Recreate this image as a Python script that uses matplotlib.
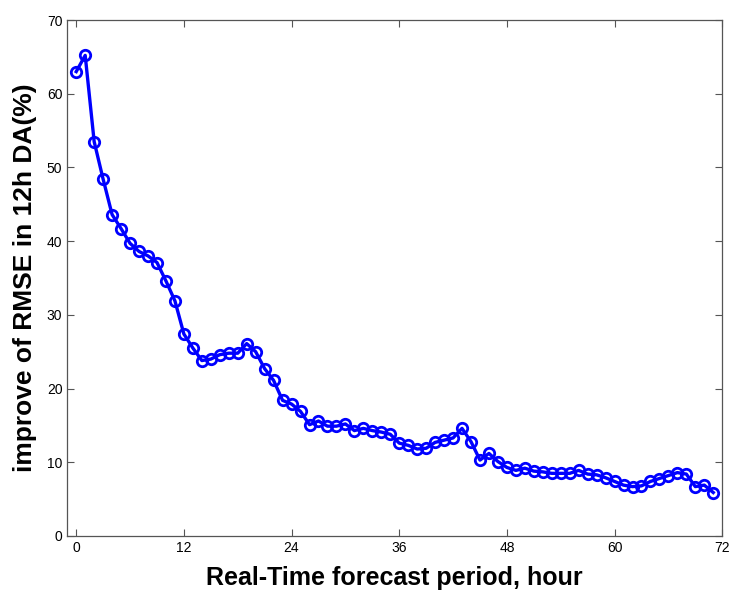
import matplotlib.pyplot as plt

plt.rcParams['font.family'] = ['Liberation Sans', 'DejaVu Sans']

# forecast hour and RMSE improvement (%)
hours = list(range(72))
improve = [
    63.0, 65.2, 53.5, 48.4, 43.6, 41.7, 39.7, 38.6, 38.0, 37.1,
    34.6, 31.9, 27.4, 25.5, 23.8, 24.0, 24.6, 24.8, 24.8, 26.1,
    25.0, 22.7, 21.1, 18.4, 17.9, 16.9, 15.1, 15.6, 14.9, 14.9,
    15.2, 14.3, 14.6, 14.3, 14.1, 13.8, 12.6, 12.3, 11.8, 11.9,
    12.7, 13.0, 13.3, 14.6, 12.8, 10.3, 11.2, 10.1, 9.3, 8.9,
    9.2, 8.8, 8.7, 8.5, 8.5, 8.5, 8.9, 8.4, 8.3, 7.9,
    7.4, 6.9, 6.7, 6.8, 7.4, 7.8, 8.2, 8.6, 8.4, 6.7,
    6.9, 5.9,
]
xticks = [0, 12, 24, 36, 48, 60, 72]
yticks = [0, 10, 20, 30, 40, 50, 60, 70]

fig = plt.figure(figsize=(7.31, 5.92), dpi=100)
ax = fig.add_axes([0.092, 0.0946, 0.896, 0.8716])

ax.plot(hours, improve, color='#0000ff', linewidth=2.4,
        marker='o', markersize=7.5, markerfacecolor='none',
        markeredgecolor='#0000ff', markeredgewidth=2.0)

ax.set_xlim(-1, 72)
ax.set_ylim(0, 70)
ax.set_xticks(xticks)
ax.set_yticks(yticks)
ax.tick_params(direction='in', top=True, right=True, length=5,
               width=0.8, color='#555555', labelsize=10)
for s in ax.spines.values():
    s.set_color('#555555')
    s.set_linewidth(0.9)

ax.set_xlabel('Real-Time forecast period, hour', fontsize=18,
              fontweight='bold', labelpad=8)
ax.set_ylabel('improve of RMSE in 12h DA(%)', fontsize=19,
              fontweight='bold', labelpad=7)

fig.savefig('out.png', dpi=100)
